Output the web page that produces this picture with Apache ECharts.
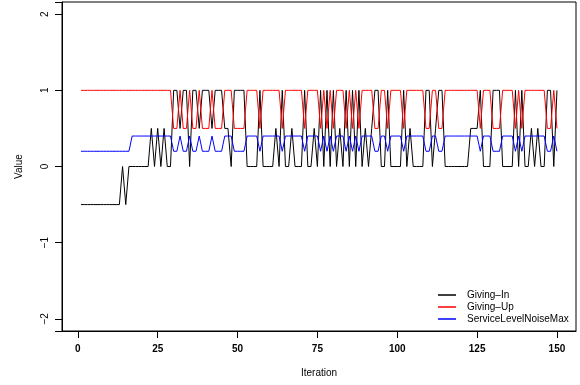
<!DOCTYPE html>
<html>
<head>
<meta charset="utf-8">
<script src="https://cdn.jsdelivr.net/npm/echarts@6/dist/echarts.min.js"></script>
<style>
  html, body { margin: 0; padding: 0; background: #fff; }
  #chart { width: 580px; height: 385px; }
</style>
</head>
<body>
<div id="chart"></div>
<script>
// values per iteration (1..150)
const iterations = [
  1, 2, 3, 4, 5, 6, 7, 8, 9, 10, 11, 12, 13, 14, 15, 16, 17, 18, 19, 20,
  21, 22, 23, 24, 25, 26, 27, 28, 29, 30, 31, 32, 33, 34, 35, 36, 37, 38, 39, 40,
  41, 42, 43, 44, 45, 46, 47, 48, 49, 50, 51, 52, 53, 54, 55, 56, 57, 58, 59, 60,
  61, 62, 63, 64, 65, 66, 67, 68, 69, 70, 71, 72, 73, 74, 75, 76, 77, 78, 79, 80,
  81, 82, 83, 84, 85, 86, 87, 88, 89, 90, 91, 92, 93, 94, 95, 96, 97, 98, 99, 100,
  101, 102, 103, 104, 105, 106, 107, 108, 109, 110, 111, 112, 113, 114, 115, 116, 117, 118, 119, 120,
  121, 122, 123, 124, 125, 126, 127, 128, 129, 130, 131, 132, 133, 134, 135, 136, 137, 138, 139, 140,
  141, 142, 143, 144, 145, 146, 147, 148, 149, 150
]

const givingIn = [
  -0.5, -0.5, -0.5, -0.5, -0.5, -0.5, -0.5, -0.5, -0.5, -0.5,
  -0.5, -0.5, -0.5, 0, -0.5, 0, 0, 0, 0, 0,
  0, 0, 0.5, 0, 0.5, 0, 0.5, 0, 0, 1,
  1, 0.5, 1, 1, 0, 1, 1, 0.5, 1, 1,
  1, 0.5, 1, 1, 1, 0.5, 0.5, 0, 1, 1,
  1, 1, 0, 0, 0, 0, 1, 0, 0, 0,
  0, 0.5, 0, 1, 0, 0, 0.5, 0, 0, 0,
  1, 0, 0, 0.5, 0, 1, 0, 1, 0, 1,
  0, 0.5, 0, 1, 0, 1, 0, 1, 0, 0.5,
  0, 0.5, 1, 1, 0, 0, 1, 0, 0, 0,
  0, 1, 0, 0.5, 0, 0, 0, 0, 1, 1,
  0, 0.5, 1, 1, 0, 0, 0, 0, 0, 0,
  0, 0, 0.5, 0.5, 0.5, 1, 0, 0, 0, 1,
  1, 1, 0, 0, 0, 0, 1, 0, 1, 0,
  0, 0.5, 0, 0.5, 0, 0, 1, 1, 0, 1
]

const givingUp = [
  1, 1, 1, 1, 1, 1, 1, 1, 1, 1,
  1, 1, 1, 1, 1, 1, 1, 1, 1, 1,
  1, 1, 1, 1, 1, 1, 1, 1, 1, 0.5,
  0.5, 1, 0.5, 0.5, 1, 0.5, 0.5, 1, 0.5, 0.5,
  0.5, 1, 0.5, 0.5, 0.5, 1, 1, 1, 0.5, 0.5,
  0.5, 0.5, 1, 1, 1, 1, 0.5, 1, 1, 1,
  1, 1, 1, 0.5, 1, 1, 1, 1, 1, 1,
  0.5, 1, 1, 1, 1, 0.5, 1, 0.5, 1, 0.5,
  1, 1, 1, 0.5, 1, 0.5, 1, 0.5, 1, 1,
  1, 1, 0.5, 0.5, 1, 1, 0.5, 1, 1, 1,
  1, 0.5, 1, 1, 1, 1, 1, 1, 0.5, 0.5,
  1, 1, 0.5, 0.5, 1, 1, 1, 1, 1, 1,
  1, 1, 1, 1, 1, 0.5, 1, 1, 1, 0.5,
  0.5, 0.5, 1, 1, 1, 1, 0.5, 1, 0.5, 1,
  1, 1, 1, 1, 1, 1, 0.5, 0.5, 1, 0.5
]

const noiseMax = [
  0.2, 0.2, 0.2, 0.2, 0.2, 0.2, 0.2, 0.2, 0.2, 0.2,
  0.2, 0.2, 0.2, 0.2, 0.2, 0.2, 0.4, 0.4, 0.4, 0.4,
  0.4, 0.4, 0.4, 0.4, 0.4, 0.4, 0.4, 0.4, 0.4, 0.2,
  0.2, 0.4, 0.2, 0.2, 0.4, 0.2, 0.2, 0.4, 0.2, 0.2,
  0.2, 0.4, 0.2, 0.2, 0.2, 0.4, 0.4, 0.4, 0.2, 0.2,
  0.2, 0.2, 0.4, 0.4, 0.4, 0.4, 0.2, 0.4, 0.4, 0.4,
  0.4, 0.4, 0.4, 0.2, 0.4, 0.4, 0.4, 0.4, 0.4, 0.4,
  0.2, 0.4, 0.4, 0.4, 0.4, 0.2, 0.4, 0.2, 0.4, 0.2,
  0.4, 0.4, 0.4, 0.2, 0.4, 0.2, 0.4, 0.2, 0.4, 0.4,
  0.4, 0.4, 0.2, 0.2, 0.4, 0.4, 0.2, 0.4, 0.4, 0.4,
  0.4, 0.2, 0.4, 0.4, 0.4, 0.4, 0.4, 0.4, 0.2, 0.2,
  0.4, 0.4, 0.2, 0.2, 0.4, 0.4, 0.4, 0.4, 0.4, 0.4,
  0.4, 0.4, 0.4, 0.4, 0.4, 0.2, 0.4, 0.4, 0.4, 0.2,
  0.2, 0.2, 0.4, 0.4, 0.4, 0.4, 0.2, 0.4, 0.2, 0.4,
  0.4, 0.4, 0.4, 0.4, 0.4, 0.4, 0.2, 0.2, 0.4, 0.2
]

const xTicks = [0, 25, 50, 75, 100, 125, 150]
const yTicks = [-2, -1, 0, 1, 2]

const seriesNames = ['Giving\u2013In', 'Giving\u2013Up', 'ServiceLevelNoiseMax']
const seriesColors = ['#000000', '#ff0000', '#0000ff']

function pairs(values) {
  return values.map((v, k) => [iterations[k], v])
}

const chart = echarts.init(document.getElementById('chart'), null, { renderer: 'canvas' })

const font = 'Liberation Sans, Arial, Helvetica, sans-serif'

// R-style box with outward ticks
chart.setOption({
  animation: false,
  grid: {
    left: 62,
    top: 2,
    right: 4,
    bottom: 54,
    show: true,
    borderColor: '#000'
  },
  legend: {
    orient: 'vertical',
    left: 438,
    top: 289,
    padding: 0,
    itemWidth: 18,
    itemHeight: 1.5,
    itemGap: 0,
    icon: 'rect',
    data: seriesNames.map((n, k) => ({ name: n, itemStyle: { color: seriesColors[k] } })),
    textStyle: {
      fontSize: 10,
      lineHeight: 12,
      color: '#000',
      fontFamily: font,
      padding: [0, 0, 0, 6]
    }
  },
  xAxis: {
    type: 'value',
    min: -4.96,
    max: 155.96,
    name: 'Iteration',
    nameLocation: 'middle',
    nameGap: 37,
    nameTextStyle: { fontSize: 10, color: '#000', fontFamily: font },
    splitLine: { show: false },
    axisLine: { show: true, onZero: false, lineStyle: { color: '#000' } },
    axisTick: {
      show: true,
      length: 7,
      customValues: xTicks,
      lineStyle: { color: '#000', width: 1 }
    },
    axisLabel: {
      customValues: xTicks,
      margin: 13,
      fontSize: 10,
      fontWeight: 'bold',
      color: '#000',
      fontFamily: font
    }
  },
  yAxis: {
    type: 'value',
    min: -2.16,
    max: 2.16,
    name: 'Value',
    nameLocation: 'middle',
    nameGap: 38,
    nameRotate: 90,
    nameTextStyle: { fontSize: 10, color: '#000', fontFamily: font },
    splitLine: { show: false },
    axisLine: { show: true, onZero: false, lineStyle: { color: '#000' } },
    axisTick: {
      show: true,
      length: 7,
      lineStyle: { color: '#000', width: 1 }
    },
    axisLabel: {
      customValues: yTicks,
      rotate: 90,
      margin: 12,
      fontSize: 10,
      color: '#000',
      fontFamily: font,
      formatter: v => String(v).replace('-', '\u2212')
    }
  },
  series: [
    {
      name: seriesNames[0],
      type: 'line',
      data: pairs(givingIn),
      symbol: 'none',
      lineStyle: { color: seriesColors[0], width: 1 },
      itemStyle: { color: seriesColors[0] }
    },
    {
      name: seriesNames[1],
      type: 'line',
      data: pairs(givingUp),
      symbol: 'none',
      lineStyle: { color: seriesColors[1], width: 1 },
      itemStyle: { color: seriesColors[1] }
    },
    {
      name: seriesNames[2],
      type: 'line',
      data: pairs(noiseMax),
      symbol: 'none',
      lineStyle: { color: seriesColors[2], width: 1 },
      itemStyle: { color: seriesColors[2] }
    }
  ]
})
</script>
</body>
</html>
